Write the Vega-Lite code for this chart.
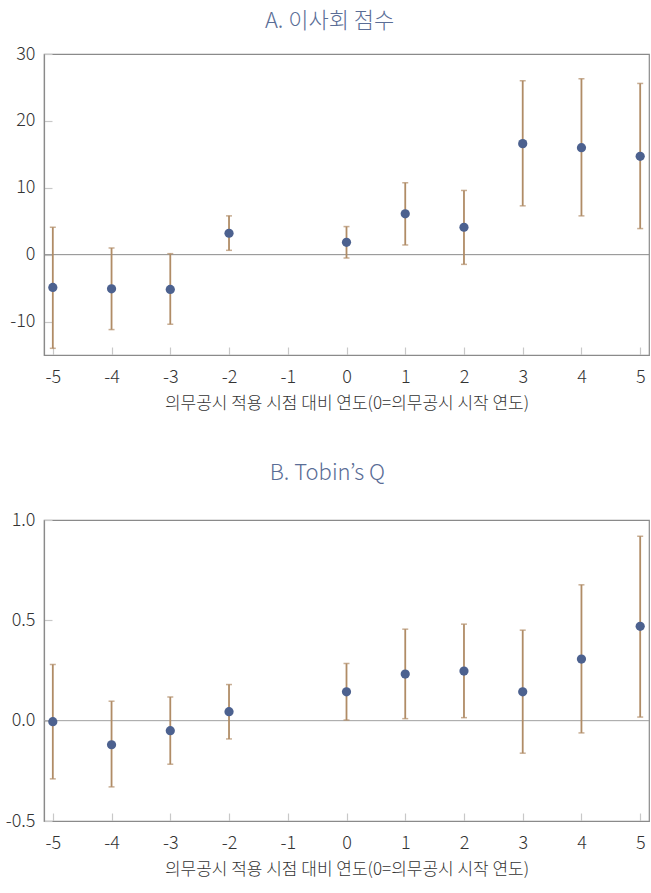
{
  "$schema": "https://vega.github.io/schema/vega-lite/v6.json",
  "padding": {"left": 4, "top": 9, "right": 2, "bottom": 5},
  "background": "white",
  "spacing": 49,
  "config": {
    "font": "Noto Sans CJK KR",
    "view": {"stroke": "#8a8a8a", "strokeWidth": 1.2},
    "title": {"font": "Noto Sans CJK KR", "fontSize": 22, "fontWeight": 300, "color": "#5a6d96", "anchor": "middle", "frame": "bounds", "offset": 12},
    "axis": {
      "labelFont": "Noto Sans CJK KR", "labelFontSize": 18, "labelFontWeight": 300, "labelColor": "#333333",
      "titleFont": "Noto Sans CJK KR", "titleFontSize": 17, "titleFontWeight": 300, "titleColor": "#333333",
      "domainColor": "#8a8a8a", "domainWidth": 1.2, "tickColor": "#c8c8c8", "tickSize": -8, "tickWidth": 1.2,
      "grid": false
    },
    "axisX": {"labelPadding": 21},
    "axisY": {"labelPadding": 17}
  },
  "datasets": {
    "board": [
      {"t": -5, "est": -4.9, "lo": -14.0, "hi": 4.1},
      {"t": -4, "est": -5.1, "lo": -11.2, "hi": 1.0},
      {"t": -3, "est": -5.2, "lo": -10.4, "hi": 0.15},
      {"t": -2, "est": 3.2, "lo": 0.65, "hi": 5.8},
      {"t": 0, "est": 1.85, "lo": -0.5, "hi": 4.2},
      {"t": 1, "est": 6.1, "lo": 1.45, "hi": 10.75},
      {"t": 2, "est": 4.1, "lo": -1.45, "hi": 9.6},
      {"t": 3, "est": 16.6, "lo": 7.3, "hi": 26.0},
      {"t": 4, "est": 16.0, "lo": 5.8, "hi": 26.3},
      {"t": 5, "est": 14.7, "lo": 3.9, "hi": 25.6}
    ],
    "tobin": [
      {"t": -5, "est": -0.005, "lo": -0.29, "hi": 0.28},
      {"t": -4, "est": -0.12, "lo": -0.33, "hi": 0.097},
      {"t": -3, "est": -0.05, "lo": -0.217, "hi": 0.118},
      {"t": -2, "est": 0.045, "lo": -0.091, "hi": 0.18},
      {"t": 0, "est": 0.144, "lo": 0.003, "hi": 0.285},
      {"t": 1, "est": 0.232, "lo": 0.01, "hi": 0.456},
      {"t": 2, "est": 0.247, "lo": 0.015, "hi": 0.481},
      {"t": 3, "est": 0.144, "lo": -0.162, "hi": 0.451},
      {"t": 4, "est": 0.307, "lo": -0.061, "hi": 0.677},
      {"t": 5, "est": 0.47, "lo": 0.018, "hi": 0.919}
    ],
    "zero": [{"z": 0}]
  },
  "vconcat": [
    {
      "title": "A. 이사회 점수",
      "width": 605,
      "height": 301,
      "layer": [
        {
          "data": {"name": "zero"},
          "mark": {"type": "rule", "color": "#8a8a8a", "strokeWidth": 1},
          "encoding": {"y": {"field": "z", "type": "quantitative", "scale": {"domain": [-15, 30]}}}
        },
        {
          "data": {"name": "board"},
          "mark": {"type": "rule", "color": "#b08c66", "strokeWidth": 1.8},
          "encoding": {
            "x": {"field": "t", "type": "quantitative", "scale": {"domain": [-5.15, 5.15], "nice": false, "zero": false},
                  "axis": {"values": [-5, -4, -3, -2, -1, 0, 1, 2, 3, 4, 5], "labelExpr": "replace(format(datum.value, 'd'), '\u2212', '-')", "title": "의무공시 적용 시점 대비 연도(0=의무공시 시작 연도)", "titlePadding": 9}},
            "y": {"field": "lo", "type": "quantitative", "scale": {"domain": [-15, 30], "nice": false, "zero": false},
                  "axis": {"values": [-10, 0, 10, 20, 30], "labelExpr": "replace(format(datum.value, 'd'), '\u2212', '-')", "title": null}},
            "y2": {"field": "hi"}
          }
        },
        {
          "data": {"name": "board"},
          "mark": {"type": "tick", "orient": "horizontal", "color": "#b08c66", "thickness": 1.5, "size": 6},
          "encoding": {
            "x": {"field": "t", "type": "quantitative"},
            "y": {"field": "lo", "type": "quantitative"}
          }
        },
        {
          "data": {"name": "board"},
          "mark": {"type": "tick", "orient": "horizontal", "color": "#b08c66", "thickness": 1.5, "size": 6},
          "encoding": {
            "x": {"field": "t", "type": "quantitative"},
            "y": {"field": "hi", "type": "quantitative"}
          }
        },
        {
          "data": {"name": "board"},
          "mark": {"type": "circle", "color": "#4c618f", "opacity": 1, "size": 85},
          "encoding": {
            "x": {"field": "t", "type": "quantitative"},
            "y": {"field": "est", "type": "quantitative"}
          }
        }
      ]
    },
    {
      "title": {"text": "B. Tobin’s Q", "offset": 26},
      "width": 605,
      "height": 301,
      "layer": [
        {
          "data": {"name": "zero"},
          "mark": {"type": "rule", "color": "#a0a0a0", "strokeWidth": 1},
          "encoding": {"y": {"field": "z", "type": "quantitative", "scale": {"domain": [-0.5, 1.0]}}}
        },
        {
          "data": {"name": "tobin"},
          "mark": {"type": "rule", "color": "#b08c66", "strokeWidth": 1.8},
          "encoding": {
            "x": {"field": "t", "type": "quantitative", "scale": {"domain": [-5.15, 5.15], "nice": false, "zero": false},
                  "axis": {"values": [-5, -4, -3, -2, -1, 0, 1, 2, 3, 4, 5], "labelExpr": "replace(format(datum.value, 'd'), '\u2212', '-')", "title": "의무공시 적용 시점 대비 연도(0=의무공시 시작 연도)", "titlePadding": 9}},
            "y": {"field": "lo", "type": "quantitative", "scale": {"domain": [-0.5, 1.0], "nice": false, "zero": false},
                  "axis": {"values": [-0.5, 0, 0.5, 1.0], "labelExpr": "replace(format(datum.value, '.1f'), '\u2212', '-')", "title": null}},
            "y2": {"field": "hi"}
          }
        },
        {
          "data": {"name": "tobin"},
          "mark": {"type": "tick", "orient": "horizontal", "color": "#b08c66", "thickness": 1.5, "size": 6},
          "encoding": {
            "x": {"field": "t", "type": "quantitative"},
            "y": {"field": "lo", "type": "quantitative"}
          }
        },
        {
          "data": {"name": "tobin"},
          "mark": {"type": "tick", "orient": "horizontal", "color": "#b08c66", "thickness": 1.5, "size": 6},
          "encoding": {
            "x": {"field": "t", "type": "quantitative"},
            "y": {"field": "hi", "type": "quantitative"}
          }
        },
        {
          "data": {"name": "tobin"},
          "mark": {"type": "circle", "color": "#4c618f", "opacity": 1, "size": 85},
          "encoding": {
            "x": {"field": "t", "type": "quantitative"},
            "y": {"field": "est", "type": "quantitative"}
          }
        }
      ]
    }
  ]
}
